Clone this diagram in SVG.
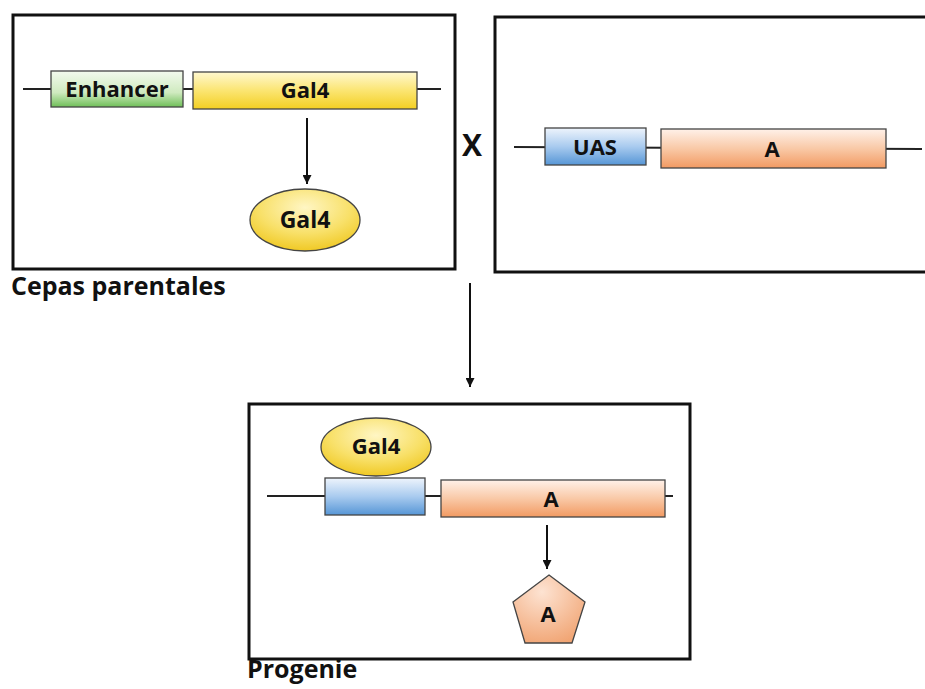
<svg xmlns="http://www.w3.org/2000/svg" width="925" height="689" viewBox="0 0 925 689">
<style>
.frame{fill:none;stroke:#111;stroke-width:3}
.dna{stroke:#222;stroke-width:2;fill:none}
.seg{stroke:#444;stroke-width:1.3}
.lbl{font-family:"Open Sans","Liberation Sans",sans-serif;font-weight:bold;fill:#111;text-anchor:middle}
.cap{font-family:"Open Sans","Liberation Sans",sans-serif;font-weight:bold;fill:#111}
.conn{stroke:#111;stroke-width:2;fill:none}
</style>
<defs>
<linearGradient id="gGreen" x1="0" y1="0" x2="0" y2="1"><stop offset="0" stop-color="#f3faee"/><stop offset="0.6" stop-color="#cfeabf"/><stop offset="1" stop-color="#6fbf58"/></linearGradient>
<linearGradient id="gYellow" x1="0" y1="0" x2="0" y2="1"><stop offset="0" stop-color="#fff8d0"/><stop offset="0.5" stop-color="#fbe572"/><stop offset="1" stop-color="#f3cf22"/></linearGradient>
<linearGradient id="gBlue" x1="0" y1="0" x2="0" y2="1"><stop offset="0" stop-color="#eef4fc"/><stop offset="0.5" stop-color="#a9cbef"/><stop offset="1" stop-color="#5696d6"/></linearGradient>
<linearGradient id="gOrange" x1="0" y1="0" x2="0" y2="1"><stop offset="0" stop-color="#fff1e9"/><stop offset="0.5" stop-color="#f9c9a7"/><stop offset="1" stop-color="#f29a62"/></linearGradient>
<radialGradient id="gEll" cx="0.5" cy="0.3" r="0.7"><stop offset="0" stop-color="#fff6c4"/><stop offset="0.6" stop-color="#f8e068"/><stop offset="1" stop-color="#f0c925"/></radialGradient>
<radialGradient id="gPent" cx="0.4" cy="0.25" r="0.8"><stop offset="0" stop-color="#fde3d2"/><stop offset="1" stop-color="#f1a574"/></radialGradient>
<marker id="ah" viewBox="0 0 10 10" refX="10" refY="5" markerWidth="4.5" markerHeight="4.5" orient="auto" markerUnits="strokeWidth"><path d="M0,0 L10,5 L0,10 z" fill="#111"/></marker>
</defs>
<rect width="925" height="689" fill="#fff"/>

<g id="parent1">
<rect class="frame" x="13" y="15" width="442" height="254"/>
<line class="dna" x1="23" y1="89" x2="441" y2="89"/>
<rect class="seg" x="51" y="71" width="132" height="36" fill="url(#gGreen)"/>
<text class="lbl" x="117" y="97" font-size="22">Enhancer</text>
<rect class="seg" x="193" y="72" width="224" height="37" fill="url(#gYellow)"/>
<text class="lbl" x="305" y="98" font-size="22">Gal4</text>
</g>
<g id="gal4-protein1">
<ellipse cx="305" cy="220" rx="55" ry="31" fill="url(#gEll)" stroke="#444" stroke-width="1.3"/>
<text class="lbl" x="305" y="228" font-size="23">Gal4</text>
</g>
<g id="label-parentales"><text class="cap" x="11" y="295" font-size="25">Cepas parentales</text></g>
<g id="cross"><text class="lbl" x="472" y="156" font-size="30">X</text></g>

<g id="parent2">
<path class="frame" d="M930,17 L495,17 L495,272 L930,272"/>
<line class="dna" x1="514" y1="147" x2="922" y2="149"/>
<rect class="seg" x="545" y="128" width="101" height="37" fill="url(#gBlue)"/>
<text class="lbl" x="595" y="155" font-size="22">UAS</text>
<rect class="seg" x="661" y="129" width="225" height="39" fill="url(#gOrange)"/>
<text class="lbl" x="772" y="157" font-size="22">A</text>
</g>

<g id="progeny">
<rect class="frame" x="249" y="404" width="441" height="255"/>
<line class="dna" x1="267" y1="496" x2="673" y2="496"/>
<rect class="seg" x="325" y="478" width="100" height="37" fill="url(#gBlue)"/>
<rect class="seg" x="441" y="480" width="224" height="37" fill="url(#gOrange)"/>
<text class="lbl" x="551" y="507" font-size="22">A</text>
</g>
<g id="gal4-protein2">
<ellipse cx="376" cy="447" rx="55" ry="29" fill="url(#gEll)" stroke="#444" stroke-width="1.3"/>
<text class="lbl" x="376" y="454" font-size="22">Gal4</text>
</g>
<g id="protein-A">
<polygon points="549,575 585,602 572,643 525,643 513,602" fill="url(#gPent)" stroke="#444" stroke-width="1.3"/>
<text class="lbl" x="548" y="622" font-size="22">A</text>
</g>
<g id="label-progenie"><text class="cap" x="247" y="678" font-size="25">Progenie</text></g>

<g id="connectors">
<line class="conn" x1="307" y1="118" x2="307" y2="184" marker-end="url(#ah)"/>
<line class="conn" x1="470" y1="283" x2="470" y2="387" marker-end="url(#ah)"/>
<line class="conn" x1="547" y1="525" x2="547" y2="569" marker-end="url(#ah)"/>
</g>
</svg>
